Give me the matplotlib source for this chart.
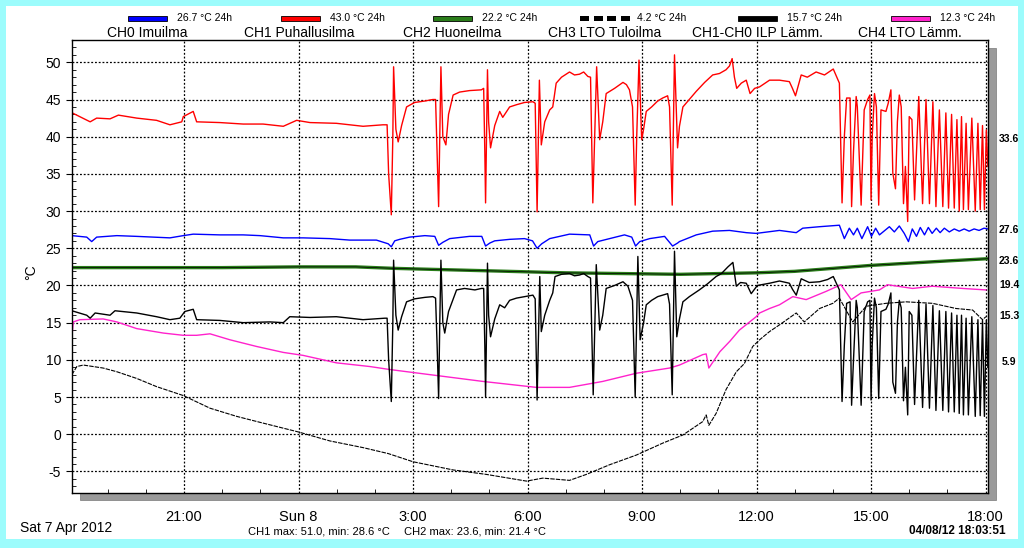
import matplotlib
matplotlib.use('Agg')
import matplotlib.pyplot as plt
from matplotlib import font_manager
from matplotlib.patches import Rectangle

# time axis: hours relative to Sun 8 Apr 00:00
x_start, x_end = -5.936, 18.064
tick_hours = [-3, 0, 3, 6, 9, 12, 15, 18]
tick_labels = ['21:00', 'Sun 8', '3:00', '6:00', '9:00', '12:00', '15:00', '18:00']

ch0_t = [-5.94, -5.55, -5.42, -5.29, -4.76, -4.24, -3.37, -3.02, -2.76, -2.06, -1.45, -1.01, -0.40, 0.12,
         0.82, 1.34, 2.04, 2.35, 2.43, 2.52, 2.65, 2.91, 3.31, 3.57, 3.67, 3.78, 3.96, 4.48, 4.80, 4.90,
         5.01, 5.14, 5.53, 5.92, 6.13, 6.25, 6.37, 6.58, 7.10, 7.63, 7.73, 7.84, 8.15, 8.54, 8.73, 8.83,
         8.94, 9.20, 9.59, 9.80, 9.93, 9.98, 10.42, 10.85, 11.29, 11.73, 11.99, 12.60, 13.04, 13.21, 13.65,
         14.17, 14.30, 14.43, 14.54, 14.64, 14.76, 14.91, 15.01, 15.12, 15.22, 15.48, 15.61, 15.74, 15.87,
         15.98, 16.08, 16.19, 16.29, 16.40, 16.50, 16.60, 16.71, 16.81, 16.92, 17.05, 17.18, 17.31, 17.44,
         17.57, 17.70, 17.83, 17.96, 18.06]
ch0_v = [26.7, 26.5, 25.9, 26.5, 26.7, 26.6, 26.4, 26.7, 26.9, 26.8, 26.8, 26.7, 26.4, 26.4,
         26.3, 26.1, 26.1, 25.6, 25.2, 26.0, 26.2, 26.5, 26.7, 26.6, 25.4, 25.8, 26.3, 26.6, 26.6, 25.3,
         25.7, 26.0, 26.2, 26.3, 26.0, 25.0, 25.6, 26.3, 26.9, 26.8, 25.3, 25.9, 26.3, 26.8, 26.5, 25.3,
         25.9, 26.3, 26.6, 25.3, 25.7, 25.9, 26.8, 27.3, 27.4, 27.1, 27.0, 27.4, 27.1, 27.7, 27.9,
         28.1, 26.3, 27.7, 26.8, 27.7, 26.3, 27.9, 26.6, 27.7, 26.8, 27.9, 27.2, 28.0, 27.0,
         25.9, 27.6, 26.6, 27.8, 26.8, 27.8, 27.0, 27.7, 27.1, 27.7, 27.2, 27.6, 27.3, 27.6,
         27.3, 27.6, 27.4, 27.7, 27.6]

ch1_t = [-5.93, -5.46, -5.29, -4.94, -4.72, -4.24, -3.72, -3.37, -3.06, -3.02, -2.76, -2.67, -2.06, -1.45,
         -0.93, -0.40, -0.05, 0.30, 0.99, 1.69, 2.21,
         2.32, 2.36, 2.43, 2.47, 2.49, 2.55, 2.61, 2.70, 2.83, 3.04, 3.31, 3.52, 3.59, 3.63, 3.67, 3.70,
         3.73, 3.78, 3.86, 3.93, 4.05, 4.22, 4.48, 4.79, 4.85, 4.88, 4.90, 4.93, 4.95, 4.98, 5.03, 5.14,
         5.27, 5.35, 5.53, 5.71, 5.92, 6.14, 6.20, 6.25, 6.31, 6.36, 6.45, 6.58, 6.66, 6.75, 6.89, 7.10,
         7.23, 7.36, 7.47, 7.58, 7.65, 7.71, 7.81, 7.89, 7.97, 8.06, 8.28, 8.50, 8.59, 8.67, 8.75, 8.82,
         8.86, 8.92, 8.99, 9.04, 9.11, 9.25, 9.41, 9.54, 9.67, 9.72, 9.79, 9.85, 9.93, 9.98, 10.07, 10.42,
         10.64, 10.85, 11.03, 11.20, 11.29, 11.36, 11.42, 11.48, 11.60, 11.73, 11.83, 11.95, 12.08, 12.34,
         12.60, 12.86, 12.94, 13.02, 13.17, 13.33, 13.56, 13.78, 14.01,
         14.17, 14.24, 14.30, 14.36, 14.45, 14.49, 14.54, 14.61, 14.64, 14.74, 14.82, 14.91, 14.97, 15.00,
         15.03, 15.09, 15.14, 15.20, 15.26, 15.39, 15.45, 15.52, 15.57, 15.64, 15.69, 15.74, 15.79, 15.85,
         15.90, 15.96, 16.00, 16.07, 16.14, 16.25, 16.35, 16.44, 16.53, 16.62, 16.70, 16.79, 16.88, 16.96,
         17.03, 17.11, 17.18, 17.25, 17.31, 17.37, 17.42, 17.49, 17.55, 17.64, 17.73, 17.80, 17.86, 17.92,
         17.97, 18.02, 18.06]
ch1_v = [43.2, 42.0, 42.5, 42.4, 42.9, 42.5, 42.2, 41.6, 42.0, 42.7, 43.4, 42.0, 41.9, 41.7,
         41.7, 41.4, 42.2, 41.9, 41.8, 41.4, 41.6,
         41.6, 35.0, 29.5, 40.0, 49.4, 41.0, 39.3, 41.5, 44.0, 44.6, 44.8, 45.0, 45.0, 38.0, 30.6, 40.0,
         49.4, 40.0, 38.9, 43.0, 45.6, 46.0, 46.2, 46.3, 46.5, 38.0, 31.1, 42.0, 49.0, 42.0, 38.5, 41.5,
         43.4, 42.6, 44.0, 44.3, 44.6, 44.7, 44.5, 29.9, 47.6, 38.9, 42.0, 43.6, 44.0, 47.2, 48.0, 48.7,
         48.3, 48.4, 48.7, 48.1, 48.0, 31.1, 49.4, 39.6, 42.0, 45.8, 46.5, 47.3, 47.0, 46.3, 44.0, 30.8,
         40.0, 50.3, 39.6, 41.0, 43.4, 44.0, 44.8, 45.2, 45.5, 44.0, 30.8, 51.0, 38.5, 41.4, 44.0, 46.1,
         47.3, 48.3, 48.5, 49.0, 49.5, 50.5, 48.0, 46.5, 47.2, 47.6, 45.8, 46.5, 46.7, 47.6,
         47.6, 47.4, 46.5, 45.5, 48.3, 48.0, 48.7, 48.3, 49.1,
         47.2, 31.1, 40.0, 45.2, 45.2, 30.6, 38.0, 45.4, 44.0, 30.8, 43.6, 45.0, 45.6, 31.5,
         40.0, 45.8, 44.0, 30.8, 43.6, 43.4, 44.5, 46.3, 35.1, 33.0, 42.0, 45.6, 44.0, 31.0,
         36.0, 28.6, 42.7, 42.3, 31.5, 45.4, 31.0, 45.0, 31.0, 44.7, 30.6, 43.6, 30.6, 43.2,
         30.4, 43.0, 30.4, 42.3, 30.0, 42.7, 30.2, 41.8, 30.2, 42.5, 30.0, 41.8, 30.2, 41.5,
         30.2, 40.9, 36.0]

ch2_t = [-5.93, -4.0, -2.0, 0.0, 1.5, 2.5, 4.0, 5.5, 7.0, 8.5, 10.0, 11.0, 12.0, 13.0, 14.0, 15.0, 16.0,
         17.0, 18.06]
ch2_v = [22.4, 22.4, 22.4, 22.5, 22.5, 22.3, 22.1, 21.9, 21.7, 21.6, 21.5, 21.6, 21.7, 21.9, 22.3, 22.7,
         23.0, 23.3, 23.6]

ch3_t = [-5.94, -5.81, -5.64, -5.12, -4.76, -4.24, -3.72, -3.02, -2.32, -1.62, -1.01, 0.00, 0.82, 1.69,
         2.35, 3.00, 4.05, 4.92, 5.97, 6.40, 7.10, 7.54, 8.15, 8.85, 9.54, 10.07, 10.59, 10.68, 10.75,
         10.94, 11.20, 11.47, 11.68, 11.90, 12.08, 12.34, 12.60, 13.04, 13.25, 13.65, 14.00, 14.17, 14.52,
         14.87, 15.39, 15.92, 16.61, 17.23, 17.66, 17.92, 18.01]
ch3_v = [8.0, 9.1, 9.3, 8.9, 8.4, 7.5, 6.4, 5.2, 3.5, 2.4, 1.6, 0.3, -0.9, -1.8,
         -2.6, -3.7, -4.8, -5.4, -6.3, -5.9, -6.2, -5.4, -4.1, -2.8, -1.2, -0.1, 1.7, 2.6, 1.2,
         2.8, 6.0, 8.4, 9.5, 11.8, 12.7, 13.8, 14.7, 16.3, 15.1, 16.9, 17.6, 18.3, 15.1,
         17.2, 17.6, 17.8, 17.6, 16.9, 16.7, 15.4, 15.8]

ilp_t = [-5.94, -5.55, -5.46, -5.33, -4.94, -4.81, -4.24, -3.72, -3.37, -3.11, -2.98, -2.76, -2.67, -2.06,
         -1.45, -0.75, -0.40, -0.23, 0.30, 0.99, 1.69, 2.26,
         2.32, 2.36, 2.43, 2.47, 2.49, 2.55, 2.61, 2.70, 2.83, 3.04, 3.31, 3.52, 3.59, 3.63, 3.67, 3.70,
         3.73, 3.78, 3.83, 3.93, 4.14, 4.35, 4.62, 4.79, 4.85, 4.88, 4.90, 4.93, 4.95, 4.98, 5.03, 5.14,
         5.27, 5.40, 5.53, 5.71, 5.92, 6.14, 6.20, 6.25, 6.32, 6.36, 6.45, 6.58, 6.66, 6.72, 6.89, 7.10,
         7.23, 7.36, 7.47, 7.58, 7.65, 7.72, 7.80, 7.89, 7.97, 8.06, 8.28, 8.50, 8.63, 8.75, 8.82, 8.89,
         8.95, 9.04, 9.11, 9.25, 9.41, 9.54, 9.67, 9.72, 9.79, 9.85, 9.91, 9.98, 10.07, 10.24, 10.50,
         10.71, 10.94, 11.08, 11.25, 11.38, 11.47, 11.58, 11.73, 11.86, 12.02, 12.34, 12.60, 12.86, 12.94,
         13.04, 13.17, 13.38, 13.65, 13.86, 14.01,
         14.17, 14.24, 14.30, 14.36, 14.45, 14.49, 14.54, 14.61, 14.64, 14.74, 14.82, 14.91, 14.97, 15.00,
         15.03, 15.09, 15.14, 15.20, 15.26, 15.39, 15.45, 15.52, 15.57, 15.64, 15.69, 15.74, 15.79, 15.85,
         15.90, 15.96, 16.00, 16.07, 16.14, 16.25, 16.35, 16.44, 16.53, 16.62, 16.70, 16.79, 16.88, 16.96,
         17.03, 17.11, 17.18, 17.25, 17.31, 17.37, 17.42, 17.49, 17.55, 17.64, 17.73, 17.80, 17.86, 17.92,
         17.97, 18.02, 18.06]
ilp_v = [16.6, 16.0, 15.6, 16.3, 16.0, 16.6, 16.3, 15.8, 15.4, 15.6, 16.5, 16.8, 15.4, 15.3,
         15.0, 15.1, 15.0, 15.8, 15.7, 15.8, 15.4, 15.6,
         15.6, 10.0, 4.4, 15.0, 23.4, 16.0, 14.0, 15.8, 17.8, 18.2, 18.4, 18.5, 18.3, 12.0, 4.8, 15.0,
         23.4, 15.0, 13.6, 16.5, 19.4, 19.6, 19.4, 19.6, 19.6, 12.0, 5.0, 16.0, 23.0, 16.0, 13.1, 15.5,
         17.4, 17.0, 18.0, 18.3, 18.5, 18.7, 18.2, 4.6, 21.2, 13.8, 16.0, 18.0, 19.0, 21.2, 21.5, 21.6,
         21.3, 21.4, 21.6, 21.2, 21.0, 5.3, 22.8, 14.0, 16.0, 19.6, 20.0, 20.5, 19.9, 18.0, 5.0, 23.9,
         12.7, 15.0, 17.4, 18.0, 18.5, 18.7, 18.9, 17.5, 5.3, 24.6, 13.1, 15.5, 17.8, 18.5, 19.4,
         20.2, 21.2, 21.6, 22.5, 23.1, 19.9, 20.4, 20.3, 18.9, 20.0, 20.3, 20.6, 20.3, 19.5,
         18.7, 20.9, 20.4, 20.5, 20.8, 21.2,
         19.4, 4.4, 12.0, 17.6, 17.8, 3.9, 10.0, 18.0, 17.0, 3.9, 16.5, 17.8, 18.0, 4.6,
         12.0, 18.3, 17.0, 4.8, 16.5, 16.8, 17.5, 19.0, 7.0, 5.5, 15.0, 18.0, 17.0, 4.5,
         9.0, 2.6, 16.5, 16.0, 4.0, 18.0, 3.6, 17.5, 3.5, 17.3, 3.2, 16.6, 3.2, 16.5,
         3.0, 16.3, 3.0, 16.0, 2.8, 16.0, 2.6, 15.6, 2.6, 15.8, 2.4, 15.4, 2.5, 15.3,
         2.4, 15.3, 9.0]

ch4_t = [-5.93, -5.90, -5.73, -5.12, -4.76, -4.24, -3.54, -3.02, -2.67, -2.32, -1.80, -1.10, -0.40, 0.12,
         0.99, 1.87, 2.39, 3.61, 4.83, 6.23, 7.10, 7.97, 8.85, 9.72, 9.98, 10.59, 10.68, 10.75, 11.04,
         11.30, 11.55, 11.99, 12.08, 12.34, 12.60, 12.95, 13.30, 13.82, 14.21, 14.48, 14.74, 15.22, 15.43,
         16.09, 16.61, 17.40, 18.01]
ch4_v = [13.6, 15.1, 15.4, 15.5, 15.1, 14.2, 13.6, 13.3, 13.3, 13.5, 12.7, 11.8, 11.0, 10.6,
         9.6, 9.1, 8.7, 7.9, 7.1, 6.3, 6.3, 7.1, 8.2, 8.9, 9.3, 10.7, 10.8, 8.9, 11.1,
         12.5, 14.0, 15.8, 16.3, 16.9, 17.4, 18.5, 18.1, 19.2, 20.1, 18.1, 19.0, 19.4, 20.1,
         19.6, 19.9, 19.6, 19.4]

names = ['CH0 Imuilma', 'CH1 Puhallusilma', 'CH2 Huoneilma', 'CH3 LTO Tuloilma',
         'CH1-CH0 ILP Lämm.', 'CH4 LTO Lämm.']
averages = ['26.7 °C 24h', '43.0 °C 24h', '22.2 °C 24h', '4.2 °C 24h', '15.7 °C 24h', '12.3 °C 24h']
colours = ['#0000ff', '#ff0000', '#2a7d1a', '#000000', '#000000', '#ff22cc']
right_labels = ['33.6', '27.6', '23.6', '19.4', '15.3', '5.9']

W, H = 1024, 548


def px(x, y):
    """ pixel position (from top left) to figure fraction """
    return x / W, 1 - y / H


installed = {f.name for f in font_manager.fontManager.ttflist}
narrow = 'Liberation Sans Narrow' if 'Liberation Sans Narrow' in installed else 'Liberation Sans'
plt.rcParams['font.family'] = ['Liberation Sans', 'DejaVu Sans']
plt.rcParams['axes.unicode_minus'] = False

fig = plt.figure(figsize=(W / 100, H / 100), dpi=100, facecolor='#9cfcfc')
fig.patches.append(Rectangle(px(6, 539), 1012 / W, 533 / H, transform=fig.transFigure,
                             facecolor='white', edgecolor='none', zorder=0))
# drop shadow of the plot area
fig.patches.append(Rectangle(px(80, 500), 916 / W, 452 / H, transform=fig.transFigure,
                             facecolor='#9a9a9a', edgecolor='#7a7a7a', lw=0.5, zorder=1))

ax = fig.add_axes([72 / W, 1 - 493 / H, 916 / W, 453 / H], zorder=2)
ax.set_facecolor('white')

ax.plot(ch3_t, ch3_v, color='black', lw=0.8, linestyle=(0, (4, 1)))
ax.plot(ch4_t, ch4_v, color=colours[5], lw=1.0)
ax.plot(ch0_t, ch0_v, color=colours[0], lw=1.0)
ax.plot(ch2_t, ch2_v, color=colours[2], lw=2.4, solid_capstyle='butt')
ax.plot(ch2_t, ch2_v, color='black', lw=0.5)
ax.plot(ilp_t, ilp_v, color='black', lw=1.0)
ax.plot(ch1_t, ch1_v, color=colours[1], lw=1.0)

ax.set_xlim(x_start, x_end)
ax.set_ylim(-7.9, 53.0)
ax.set_xticks(tick_hours)
ax.set_xticklabels(tick_labels, family=[narrow, 'DejaVu Sans'], fontsize=10.5)
ax.set_xticks(range(-5, 19), minor=True)
ax.set_yticks(range(-5, 51, 5))
ax.set_yticks(range(-7, 53), minor=True)
ax.tick_params(axis='y', which='major', direction='out', length=4, width=0.8, labelsize=10, pad=4)
ax.tick_params(axis='y', which='minor', direction='in', length=3, width=0.6)
ax.tick_params(axis='x', which='major', direction='in', length=0, pad=12)
ax.tick_params(axis='x', which='minor', direction='in', length=3, width=0.6)
ax.grid(True, which='major', color='black', linestyle=(0, (1.5, 1.5)), lw=0.9)
for spine in ax.spines.values():
    spine.set_linewidth(1.0)

fig.text(*px(31, 272), '°C', rotation=90, ha='center', va='center', fontsize=10)

# legend across the top
for i, (name, avg, colour) in enumerate(zip(names, averages, colours)):
    centre = 147 + i * 152.6
    fig.text(*px(centre, 33), name, ha='center', va='center', fontsize=10)
    if i == 3:
        for j in range(4):
            fig.patches.append(Rectangle(px(580 + j * 13.5, 20.5), 9 / W, 4.5 / H,
                                         transform=fig.transFigure, facecolor='black',
                                         edgecolor='none', zorder=3))
        fig.text(*px(637, 18), avg, ha='left', va='center', fontsize=7.5)
    else:
        fig.patches.append(Rectangle(px(centre - 19, 20.5), 39 / W, 4.5 / H,
                                     transform=fig.transFigure, facecolor=colour,
                                     edgecolor='black', lw=0.6, zorder=3))
        fig.text(*px(centre + 30, 18), avg, ha='left', va='center', fontsize=7.5)

# current values on the right
for label, y in zip(right_labels, [139, 230, 261, 285, 316, 362]):
    fig.text(*px(1009, y), label, ha='center', va='center', fontsize=7.5, fontweight='bold')

fig.text(*px(20, 528), 'Sat 7 Apr 2012', ha='left', va='center', fontsize=10,
         family=[narrow, 'DejaVu Sans'])
fig.text(*px(248, 531), 'CH1 max: 51.0, min: 28.6 °C', ha='left', va='center', fontsize=8,
         family=[narrow, 'DejaVu Sans'])
fig.text(*px(404, 531), 'CH2 max: 23.6, min: 21.4 °C', ha='left', va='center', fontsize=8,
         family=[narrow, 'DejaVu Sans'])
fig.text(*px(1006, 531), '04/08/12 18:03:51', ha='right', va='center', fontsize=8.5,
         fontweight='bold', family=[narrow, 'DejaVu Sans'])

fig.savefig('out.png', dpi=100, facecolor=fig.get_facecolor())
